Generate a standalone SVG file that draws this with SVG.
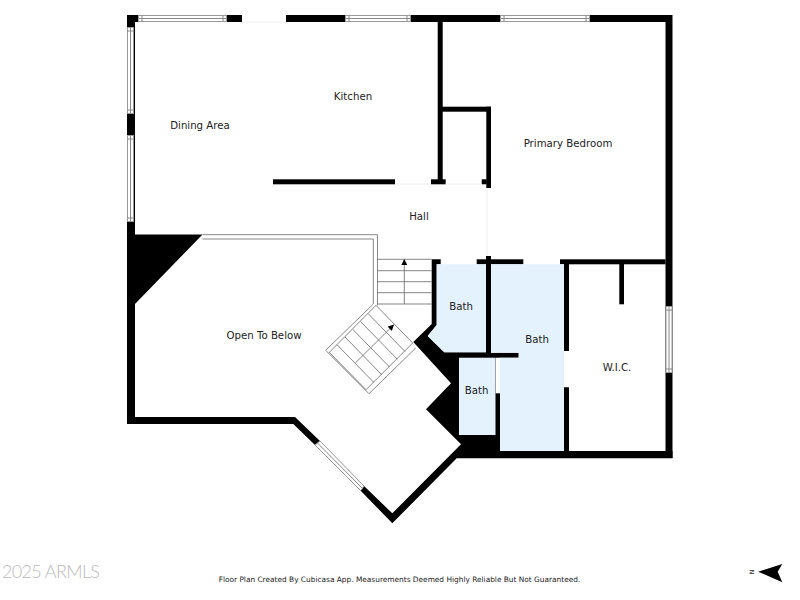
<svg xmlns="http://www.w3.org/2000/svg" width="800" height="600" viewBox="0 0 800 600">
<style>
text{font-family:"DejaVu Sans",sans-serif;fill:#222;font-size:10.2px;text-anchor:middle}
.w{fill:#000}
.win{fill:#fff;stroke:#999;stroke-width:1}
.bath{fill:#e3f2fd}
.l{stroke:#666;stroke-width:.8;fill:none}
.rail{stroke:#888;stroke-width:1;fill:none}
.faint{stroke:#eee;stroke-width:1;fill:none}
</style>
<defs><marker id="a" markerUnits="userSpaceOnUse" markerWidth="6" markerHeight="6" refX="5" refY="3" orient="auto"><path d="M0 0L6 3L0 6Z" fill="#000"/></marker></defs>
<rect width="800" height="600" fill="#fff"/>
<g id="walls">
<rect class="w" x="127" y="15" width="115" height="7"/>
<rect class="w" x="286" y="15" width="386" height="7"/>
<rect class="w" x="665.5" y="15" width="7" height="443"/>
<rect class="w" x="127" y="15" width="8" height="409"/>
<polygon class="w" points="127,222 135,222 135,234.5 202.5,234.5 135,304 135,417 295,417 320,441 315,445 293.3,424 127,424"/>
<polygon class="w" points="364,486 392.3,513.3 461,444.3 426,409.3 451,383.3 413.3,342 431.7,324 431.7,259.3 440.7,259.3 440.7,264.3 436.7,264.3 436.7,325 427.7,336 444.3,352.3 486,352.3 486,256 491,256 491,352.7 518.7,352.7 518.7,357.7 500,357.7 500,451 564,451 564,387.3 569,387.3 569,451 672.5,451 672.5,458.3 456.7,458.3 392.3,523.3 360.7,490.7"/>
<rect class="w" x="476.7" y="259.3" width="46.6" height="5"/>
<rect class="w" x="560" y="259.3" width="105.5" height="5"/>
<rect class="w" x="564" y="264" width="5" height="87"/>
<rect class="w" x="437.7" y="22" width="5" height="158"/>
<rect class="w" x="431" y="179.3" width="14.7" height="5"/>
<rect class="w" x="442" y="106.7" width="49" height="5"/>
<rect class="w" x="486.3" y="106.7" width="4.7" height="81.3"/>
<rect class="w" x="481.7" y="179.3" width="5" height="5"/>
<rect class="w" x="273" y="179.3" width="122" height="5"/>
<rect class="w" x="619.3" y="264" width="4.7" height="40.3"/>
</g>
<g id="baths">
<polygon class="bath" points="436.7,264.3 486,264.3 486,352.3 444.3,352.3 427.7,336 436.7,325"/>
<polygon class="bath" points="491,264.3 564,264.3 564,451 500,451 500,357.7 518.7,357.7 518.7,352.7 491,352.7"/>
<rect class="bath" x="459" y="357.7" width="36.5" height="77.3"/>
<rect x="495.7" y="357.7" width="4.3" height="35.6" fill="#fff"/>
</g>
<g id="openings">
<rect class="win" x="138.5" y="15.5" width="88" height="6"/>
<path class="rail" d="M142 15.5V21.5M223 15.5V21.5M138.5 18.5H226.5"/>
<rect class="win" x="345.5" y="15.5" width="65" height="6"/>
<path class="rail" d="M349 15.5V21.5M407 15.5V21.5M345.5 18.5H410.5"/>
<rect class="win" x="500.5" y="15.5" width="89" height="6"/>
<path class="rail" d="M504 15.5V21.5M586 15.5V21.5M500.5 18.5H589.5"/>
<rect class="win" x="127.5" y="27.5" width="6" height="86"/>
<rect class="win" x="127.5" y="135.5" width="6" height="86"/>
<path class="rail" d="M127.5 31H133.5M127.5 110H133.5M127.5 139H133.5M127.5 218H133.5M130.5 27.5V113.5M130.5 135.5V221.5"/>
<rect class="win" x="666" y="306.5" width="6" height="66"/>
<path class="rail" d="M666 310H672M666 369H672M669 306.5V372.5"/>
<polygon class="win" points="320,441 364,486 360.7,490.7 315,445"/>
<path class="rail" d="M317.5 443L362.3 488.3"/>
<path class="faint" d="M242 22H286M395 184H431M445.7 184H481.7M487 188V256"/>
</g>
<g id="stairs">
<path class="rail" d="M202.5 234.7H377.5V305.3M202.5 239H373.3V304L325.7 350.3L369 393.7L415.7 348"/>
<path class="l" d="M377.5 259.3H431.7M377.5 270.7H431.7M377.5 281.7H431.7M377.5 292.7H431.7M377.5 304H431.7"/>
<path class="l" d="M404.3 304V260" marker-end="url(#a)"/>
<path class="l" d="M376 305.3L412.7 343L366 389.7L329.3 352.3Z"/>
<path class="l" d="M368.3 313.8L405 351.5M360.5 321.5L397.3 359.2M352.7 329.3L389.5 367M345 337L381.7 374.7M337.1 344.8L373.9 382.5"/>
<path class="l" d="M355.3 363L393.3 325.3" marker-end="url(#a)"/>
</g>
<g id="labels">
<text x="353" y="100">Kitchen</text>
<text x="200" y="129">Dining Area</text>
<text x="568" y="147">Primary Bedroom</text>
<text x="419" y="220">Hall</text>
<text x="264" y="339">Open To Below</text>
<text x="461" y="310">Bath</text>
<text x="537" y="343">Bath</text>
<text x="476.5" y="394">Bath</text>
<text x="617" y="371">W.I.C.</text>
<text x="399.5" y="582" style="font-size:7.4px">Floor Plan Created By Cubicasa App. Measurements Deemed Highly Reliable But Not Guaranteed.</text>
<text x="2" y="578" textLength="98" style="font-family:'Lato',sans-serif;font-weight:300;font-size:18px;fill:#bbb;text-anchor:start">2025 ARMLS</text>
<text transform="translate(754 572) rotate(-90)" style="font-size:6px">N</text>
</g>
<polygon id="north" points="758.3,571.7 782.3,564 777.7,571.7 782.3,582.3" fill="#000"/>
</svg>
